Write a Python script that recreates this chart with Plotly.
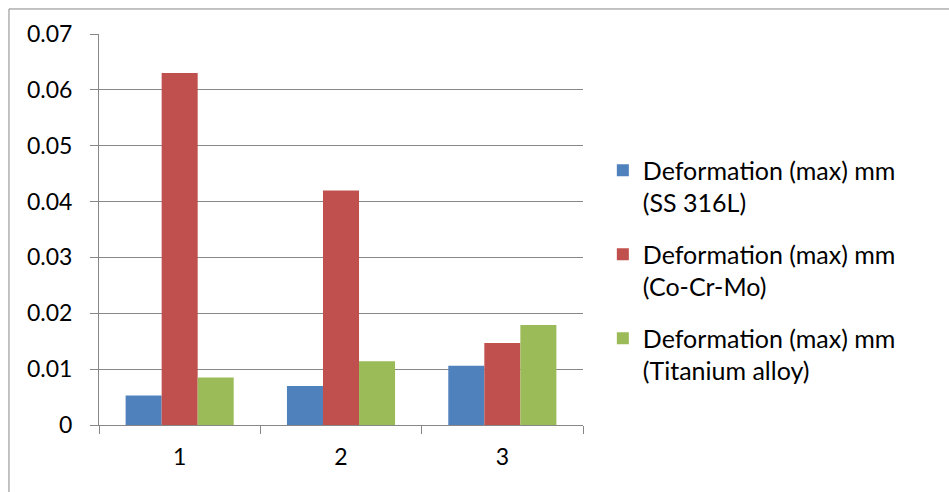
import plotly.graph_objects as go

# Load cases on the x axis
categories = ["1", "2", "3"]

# Maximum deformation (mm) per material
ss316l = [0.0053, 0.0070, 0.0106]
cocrmo = [0.0630, 0.0420, 0.0147]
titanium = [0.0085, 0.0114, 0.0179]

# A zero-width non-joiner keeps "ti" from turning into a ligature in Lato
LABEL = "Deforma\u200ction (max) mm"
series_names = [
    LABEL + "<br>(SS 316L)",
    LABEL + "<br>(Co-Cr-Mo)",
    LABEL + "<br>(Titanium alloy)",
]
series_values = [ss316l, cocrmo, titanium]
series_colors = ["#4F81BD", "#C0504D", "#9BBB59"]

y_ticks = [0, 0.01, 0.02, 0.03, 0.04, 0.05, 0.06, 0.07]
y_tick_text = ["0", "0.01", "0.02", "0.03", "0.04", "0.05", "0.06", "0.07"]

FONT = "Lato"
GRID = "#878787"

fig = go.Figure()
for i, (name, vals, col) in enumerate(zip(series_names, series_values, series_colors)):
    fig.add_trace(go.Bar(
        x=categories, y=vals, name=name,
        marker=dict(color=col, line=dict(width=0)),
        legendgroup=f"g{i}",
    ))

fig.update_layout(
    width=949, height=492,
    margin=dict(l=99, r=366, t=34, b=67),
    paper_bgcolor="white", plot_bgcolor="white",
    barmode="group", bargap=0.33, bargroupgap=0,
    font=dict(family=FONT, size=23, color="black"),
    showlegend=True,
    legend=dict(
        x=1.041, xanchor="left", xref="paper",
        y=0.71, yanchor="top",
        valign="top",
        font=dict(family=FONT, size=25, color="black"),
        tracegroupgap=16,
        bgcolor="rgba(0,0,0,0)",
    ),
    xaxis=dict(
        type="category",
        showline=True, linecolor=GRID, linewidth=1,
        ticks="outside", ticklen=8, tickcolor=GRID, tickwidth=1,
        tickson="boundaries",
        showgrid=False,
        ticklabelstandoff=11,
        tickfont=dict(family=FONT, size=23),
    ),
    yaxis=dict(
        range=[0, 0.07],
        tickvals=y_ticks, ticktext=y_tick_text,
        showline=True, linecolor=GRID, linewidth=1,
        ticks="outside", ticklen=8, tickcolor=GRID, tickwidth=1,
        showgrid=True, gridcolor=GRID, gridwidth=1,
        zeroline=False,
        ticklabelstandoff=13,
        tickfont=dict(family=FONT, size=23),
    ),
)

# Chart area frame
fig.add_shape(
    type="rect", xref="paper", yref="paper",
    x0=-0.186, x1=1.8, y0=-0.2, y1=1.064,
    line=dict(color="#888888", width=1), fillcolor="rgba(0,0,0,0)",
    layer="below",
)

fig.write_html("out.html")
